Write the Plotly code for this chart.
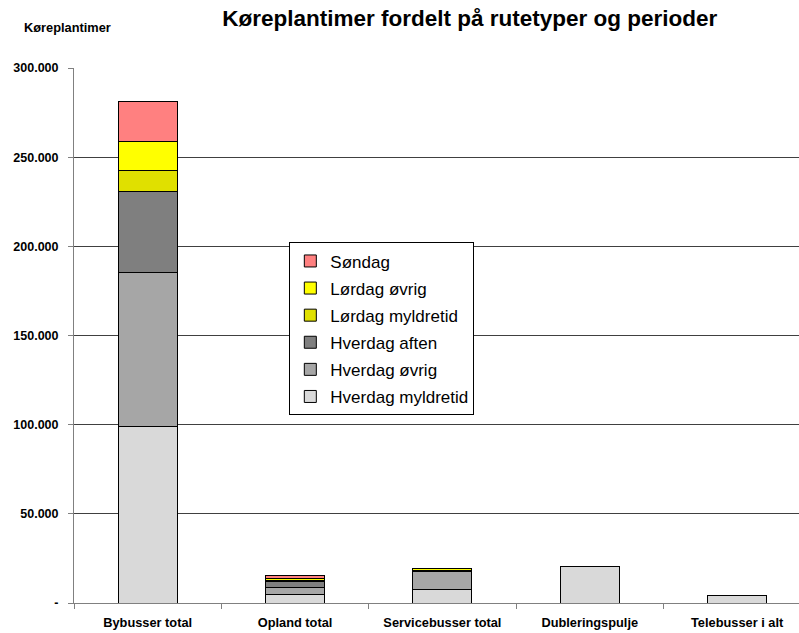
import plotly.graph_objects as go

categories = ["Bybusser total", "Opland total", "Servicebusser total", "Dubleringspulje", "Telebusser i alt"]
hverdag_myldretid = [99000, 4900, 7700, 20400, 4300]
hverdag_ovrig = [86500, 3700, 10100, 0, 0]
hverdag_aften = [45400, 3400, 150, 0, 0]
lordag_myldretid = [11800, 600, 500, 0, 0]
lordag_ovrig = [16300, 1000, 800, 0, 0]
sondag = [22400, 1700, 100, 0, 0]

y_tickvals = [0, 50000, 100000, 150000, 200000, 250000, 300000]
y_ticktext = ["-", "50.000", "100.000", "150.000", "200.000", "250.000", "300.000"]

series = [
    ("Hverdag myldretid", hverdag_myldretid, "#D9D9D9"),
    ("Hverdag øvrig", hverdag_ovrig, "#A6A6A6"),
    ("Hverdag aften", hverdag_aften, "#7F7F7F"),
    ("Lørdag myldretid", lordag_myldretid, "#E0E000"),
    ("Lørdag øvrig", lordag_ovrig, "#FFFF00"),
    ("Søndag", sondag, "#FF8080"),
]

fig = go.Figure()
n = len(series)
for i, (name, vals, col) in enumerate(series):
    fig.add_trace(go.Bar(
        x=categories, y=vals, name=name, legendgroup=name,
        legendrank=n - i,
        marker=dict(color=col, line=dict(color="#000000", width=1)),
        width=0.4,
    ))

fig.update_layout(
    barmode="stack",
    width=799, height=633,
    margin=dict(l=74, r=0, t=68, b=30),
    paper_bgcolor="white", plot_bgcolor="white",
    font=dict(family="Liberation Sans, Arial, sans-serif", color="black"),
    title=dict(text="<b>Køreplantimer fordelt på rutetyper og perioder</b>",
               x=0.588, xanchor="center", y=0.972, yanchor="middle",
               font=dict(size=22.5)),
    showlegend=True,
    legend=dict(
        x=0.297, y=0.674, xanchor="left", yanchor="top",
        traceorder="grouped", tracegroupgap=2.0,
        bordercolor="#000000", borderwidth=1, bgcolor="white",
        font=dict(size=17),
        itemwidth=30,
    ),
    annotations=[dict(text="<b>Køreplantimer</b>", xref="paper", yref="paper",
                      x=-0.0717, y=1.076, xanchor="left", yanchor="middle",
                      showarrow=False, font=dict(size=12.8))],
)

fig.update_xaxes(
    type="category",
    range=[-0.5, 4.42],
    automargin=False,
    showline=True, linecolor="#808080", linewidth=1,
    ticks="outside", tickson="boundaries", ticklen=5, tickcolor="#808080",
    tickfont=dict(size=12.8),
    ticklabelstandoff=8,
    showgrid=False,
    tickvals=categories,
    ticktext=["<b>%s</b>" % c for c in categories],
)

fig.update_yaxes(
    range=[0, 300000],
    automargin=False,
    tickvals=y_tickvals,
    ticktext=["<b>%s</b>" % t for t in y_ticktext],
    showline=True, linecolor="#808080", linewidth=1,
    ticks="outside", ticklen=5, tickcolor="#808080",
    ticklabelstandoff=7,
    showgrid=True, gridcolor="#404040", gridwidth=1,
    tickfont=dict(size=12.5),
    zeroline=False,
)

fig.write_html("out.html", config={"displayModeBar": False},
               post_script="document.body.style.margin='0';")
